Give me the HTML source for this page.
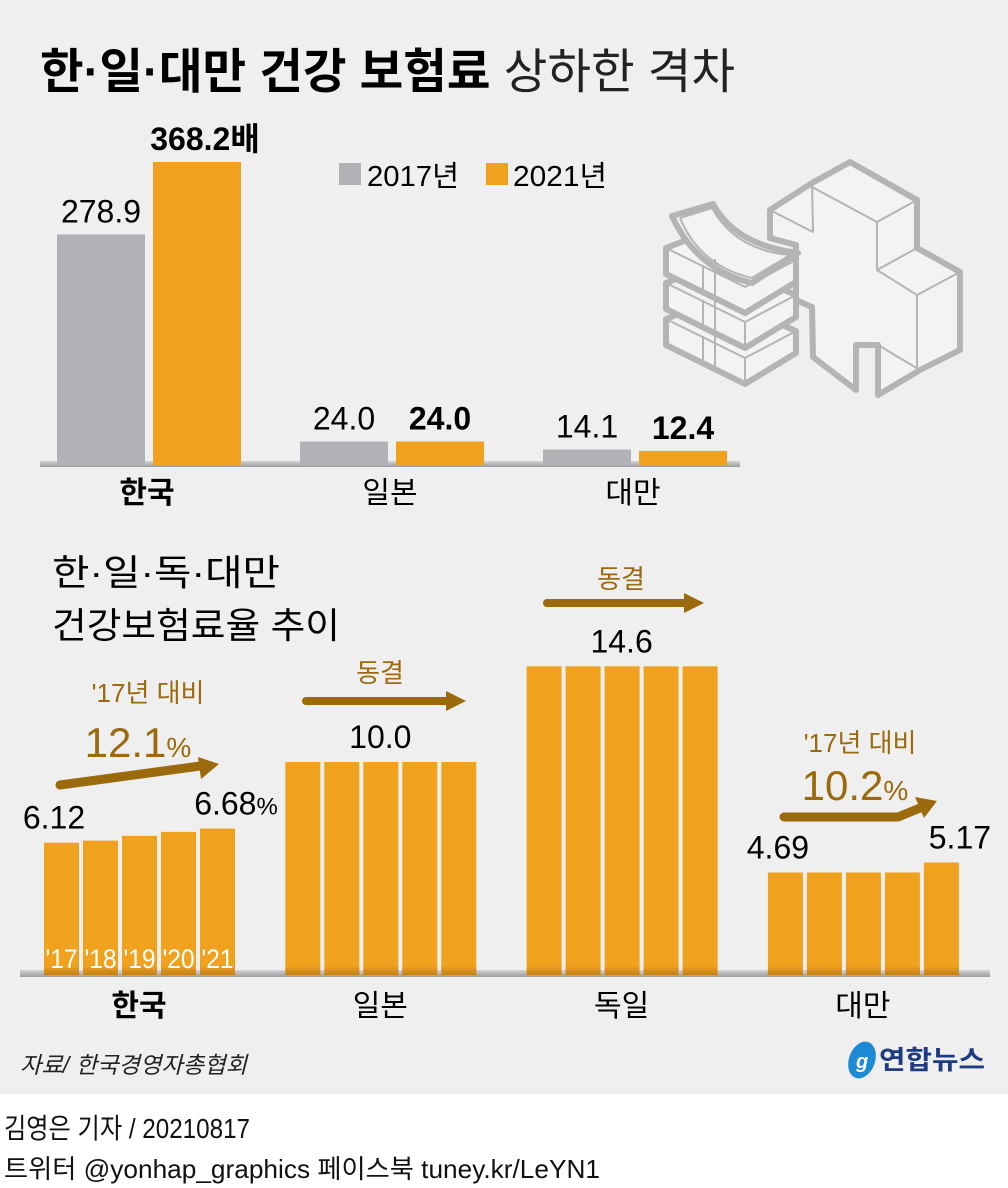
<!DOCTYPE html>
<html><head><meta charset="utf-8">
<style>
html,body{margin:0;padding:0;background:#fff}
svg{display:block}
text{font-family:"Liberation Sans","Noto Sans CJK KR",sans-serif}
</style></head>
<body>
<svg id="chart" width="1008" height="1188" viewBox="0 0 1008 1188" xmlns="http://www.w3.org/2000/svg">
<defs>
<linearGradient id="base" x1="0" y1="0" x2="0" y2="1">
<stop offset="0" stop-color="#d4d4d6"/><stop offset="1" stop-color="#9c9ca0"/>
</linearGradient>
<linearGradient id="shadeO" x1="0" y1="0" x2="0" y2="1">
<stop offset="0" stop-color="#f0a21f"/><stop offset="1" stop-color="#c47f10"/>
</linearGradient>
</defs>
<rect x="0" y="0" width="1008" height="1094" fill="#efefef"/>

<text x="40" y="88" font-size="48" textLength="695" lengthAdjust="spacingAndGlyphs"><tspan font-weight="bold">한·일·대만 건강 보험료</tspan><tspan font-weight="normal" fill="#222"> 상하한 격차</tspan></text>

<g>
<rect x="339" y="163" width="22" height="22" fill="#b1b2b6"/>
<text x="367" y="186" font-size="29" textLength="92" lengthAdjust="spacingAndGlyphs">2017년</text>
<rect x="486" y="163" width="22" height="22" fill="#f0a21f"/>
<text x="513" y="186" font-size="29" textLength="94" lengthAdjust="spacingAndGlyphs">2021년</text>
</g>

<g id="illustration" fill="#f3f3f4" stroke="#b4b4b7" stroke-linejoin="round">
<path d="M850 162 L917 200 L917 248 L960 272 L960 350 L920 370 L878 395 L878 345 L856 345 L856 390 L813 357 L812 307 L796 300 L796 245 L770 238 L770 210 L812 183 Z" stroke-width="6"/>
<path d="M812 187 L877 222 L917 200 M877 222 L877 270 L917 295 L960 272 M877 270 L917 248 M917 295 L917 370 M812 182 L813 232 L770 210 M878 345 L920 370" stroke-width="2" fill="none"/>
<g stroke-width="6">
<path d="M666 319 L720 298 L796 331 L796 353 L745 384 L666 345 Z"/>
<path d="M666 283 L720 262 L796 295 L796 317 L745 348 L666 309 Z"/>
<path d="M666 248 L720 227 L796 260 L796 282 L745 313 L666 274 Z"/>
<path d="M672 216 L713 204 Q735 245 798 253 L752 283 Q697 270 672 216 Z"/>
</g>
<path d="M666 319 L745 358 L796 331 M745 358 L745 384 M703 336 L703 364 M715 330 L715 370 M666 283 L745 322 L796 295 M745 322 L745 348 M703 300 L703 328 M715 294 L715 334 M666 248 L745 287 L796 260 M703 265 L703 293 M715 259 L715 299 M680 218 L712 208 Q735 250 790 255 L752 278 Q700 266 680 218" stroke-width="2" fill="none"/>
</g>

<g id="top-chart"></g>

<text x="52" y="585" font-size="36" textLength="228" lengthAdjust="spacingAndGlyphs">한·일·독·대만</text>
<text x="52" y="638" font-size="36" textLength="288" lengthAdjust="spacingAndGlyphs">건강보험료율 추이</text>

<g id="bottom-chart"></g>

<g fill="#9a6a0c">
<text x="148" y="702" font-size="26" text-anchor="middle">'17년 대비</text>
<text x="138" y="757" font-size="42" text-anchor="middle">12.1<tspan font-size="28">%</tspan></text>
<path d="M60 785 L200 766" stroke="#9a6a0c" stroke-width="9" stroke-linecap="round" fill="none"/>
<path d="M198 757 L219 764 L201 779 Z"/>
<text x="380" y="682" font-size="26" text-anchor="middle">동결</text>
<path d="M306 701 L448 701" stroke="#9a6a0c" stroke-width="8" stroke-linecap="round"/>
<path d="M446 691 L466 701 L446 711 Z"/>
<text x="621" y="588" font-size="26" text-anchor="middle">동결</text>
<path d="M547 603 L686 603" stroke="#9a6a0c" stroke-width="8" stroke-linecap="round"/>
<path d="M684 593 L704 603 L684 613 Z"/>
<text x="860" y="752" font-size="26" text-anchor="middle">'17년 대비</text>
<text x="855" y="800" font-size="42" text-anchor="middle">10.2<tspan font-size="28">%</tspan></text>
<path d="M784 817 L898 817 L920 808" stroke="#9a6a0c" stroke-width="9" stroke-linecap="round" fill="none"/>
<path d="M915 797 L937 801 L924 818 Z"/>
</g>

<text x="20" y="1073" font-size="23" font-style="italic" fill="#222" textLength="227" lengthAdjust="spacingAndGlyphs">자료/ 한국경영자총협회</text>

<g>
<ellipse cx="862" cy="1060" rx="13" ry="19" fill="#1d8ad6" transform="rotate(20 862 1060)"/>
<text x="856" y="1068" font-size="20" font-style="italic" font-weight="bold" fill="#fff">g</text>
<text x="879" y="1069" font-size="26" font-weight="bold" fill="#1c3b80" textLength="106" lengthAdjust="spacingAndGlyphs">연합뉴스</text>
</g>

<text x="4" y="1138" font-size="28" fill="#111" textLength="246" lengthAdjust="spacingAndGlyphs">김영은 기자 / 20210817</text>
<text x="4" y="1178" font-size="26" fill="#111" textLength="596" lengthAdjust="spacingAndGlyphs">트위터 @yonhap_graphics  페이스북 tuney.kr/LeYN1</text>
</svg>
<script>
// Top chart data
const topCountries = ['한국', '일본', '대만'];
const top2017 = [278.9, 24.0, 14.1];
const top2021 = [368.2, 24.0, 12.4];
const top2021Labels = ['368.2배', '24.0', '12.4'];

// Bottom chart data
const rateCountries = ['한국', '일본', '독일', '대만'];
const rateYears = ["'17", "'18", "'19", "'20", "'21"];
const rateKorea = [6.12, 6.22, 6.45, 6.64, 6.80];
const rateJapan = [10.0, 10.0, 10.0, 10.0, 10.0];
const rateGermany = [14.6, 14.6, 14.6, 14.6, 14.6];
const rateTaiwan = [4.69, 4.69, 4.69, 4.69, 5.17];
const rateFirstLabels = ['6.12', '', '', '4.69'];
const rateLastLabels = ['6.68%', '', '', '5.17'];
const rateMidLabels = ['', '10.0', '14.6', ''];

const NS = 'http://www.w3.org/2000/svg';
function mk(tag, attrs, parent) {
  const e = document.createElementNS(NS, tag);
  for (const k in attrs) e.setAttribute(k, attrs[k]);
  parent.appendChild(e);
  return e;
}

// ---- top chart
const tg = document.getElementById('top-chart');
const tBase = 461;
const tScale = 299 / 368.2;
const tY = v => tBase - v * tScale;
const tGroupX = i => 57 + i * 243;
const baseTop = mk('rect', {x: 40, y: 461, width: 700, height: 6, fill: 'url(#base)'}, tg);


topCountries.forEach((c, i) => {
  const x0 = tGroupX(i);
  const b1 = mk('rect', {x: x0, y: tY(top2017[i]), width: 88, height: tBase - tY(top2017[i]) + 4, fill: '#b1b2b6'}, tg);
  
  
  const b2 = mk('rect', {x: x0 + 96, y: tY(top2021[i]), width: 88, height: tBase - tY(top2021[i]) + 4, fill: '#f0a21f'}, tg);
  
  
  const l1 = mk('text', {x: x0 + 44, y: tY(top2017[i]) - 12, 'font-size': 32, 'text-anchor': 'middle'}, tg);
  l1.textContent = top2017[i].toFixed(1);
  
  
  const l2 = mk('text', {x: x0 + 140 + (i === 0 ? 8 : 0), y: tY(top2021[i]) - 12, 'font-size': 32, 'font-weight': 'bold', 'text-anchor': 'middle'}, tg);
  l2.textContent = top2021Labels[i];
  
  
  const cl = mk('text', {x: x0 + 90, y: 503, 'font-size': 30, 'text-anchor': 'middle', 'font-weight': i === 0 ? 'bold' : 'normal'}, tg);
  cl.textContent = c;
  
  
});

// ---- bottom chart
const bg = document.getElementById('bottom-chart');
const bBase = 970;
const bScale = 20.8;
const bY = v => bBase - v * bScale;
const bGroupX = i => 44 + i * 241.3;
const baseBot = mk('rect', {x: 20, y: 970, width: 970, height: 7, fill: 'url(#base)'}, bg);


const series = [rateKorea, rateJapan, rateGermany, rateTaiwan];
rateCountries.forEach((c, i) => {
  const x0 = bGroupX(i);
  series[i].forEach((v, j) => {
    const x = x0 + j * 39;
    const r = mk('rect', {x: x, y: bY(v), width: 35, height: bBase - bY(v) + 5, fill: '#f0a21f'}, bg);
    
    
    const s = mk('rect', {x: x, y: bBase - 4, width: 35, height: 9, fill: 'url(#shadeO)'}, bg);
    
    
    if (i === 0) {
      const yl = mk('text', {x: x + 17.5, y: 968, 'font-size': 27, fill: '#fff', 'text-anchor': 'middle', textLength: 32, lengthAdjust: 'spacingAndGlyphs'}, bg);
      yl.textContent = rateYears[j];
      
      
    }
  });
  const vals = series[i];
  if (rateFirstLabels[i]) {
    const t = mk('text', {x: x0 + 10, y: bY(vals[0]) - 14, 'font-size': 32, 'text-anchor': 'middle'}, bg);
    t.textContent = rateFirstLabels[i];
    
    
  }
  if (rateLastLabels[i]) {
    const t = mk('text', {x: x0 + 4 * 39 + 36, y: bY(vals[4]) - 14, 'font-size': 32, 'text-anchor': 'middle'}, bg);
    if (rateLastLabels[i].endsWith('%')) {
      t.textContent = rateLastLabels[i].slice(0, -1);
      const p = mk('tspan', {'font-size': 24}, t);
      p.textContent = '%';
    } else t.textContent = rateLastLabels[i];
    
    
  }
  if (rateMidLabels[i]) {
    const t = mk('text', {x: x0 + 95, y: bY(vals[2]) - 14, 'font-size': 32, 'text-anchor': 'middle'}, bg);
    t.textContent = rateMidLabels[i];
    
    
  }
  const cl = mk('text', {x: x0 + 95, y: 1016, 'font-size': 30, 'text-anchor': 'middle', 'font-weight': i === 0 ? 'bold' : 'normal'}, bg);
  cl.textContent = c;
  
  
});
</script>
</body></html>
